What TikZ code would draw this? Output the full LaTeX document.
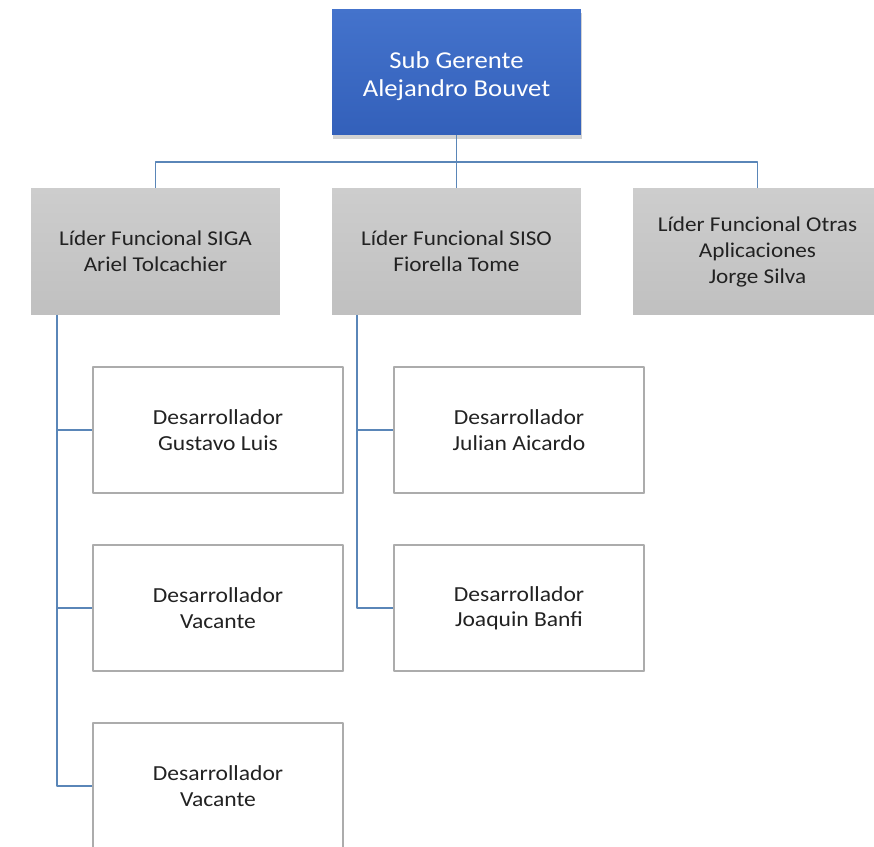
\documentclass[tikz,border=0pt]{standalone}
\usepackage{fontspec}
\setmainfont{Carlito}[FakeStretch=1.1]
\usetikzlibrary{shadows}
\definecolor{jefeTop}{HTML}{4473CC}
\definecolor{jefeBot}{HTML}{3360BA}
\definecolor{liderTop}{HTML}{CDCDCD}
\definecolor{liderBot}{HTML}{C0C0C0}
\definecolor{linea}{HTML}{5A86B8}
\definecolor{texto}{HTML}{222222}
\begin{document}
\begin{tikzpicture}[x=0.02cm,y=-0.02cm,line join=round,
    caja/.style={rectangle,minimum width=4.98cm,minimum height=2.52cm,align=center,inner sep=0pt},
    jefe/.style={caja,top color=jefeTop,bottom color=jefeBot,text=white,
      font=\fontsize{13.8}{16}\selectfont,
      drop shadow={shadow xshift=0.6pt,shadow yshift=-2.2pt,opacity=0.35}},
    lider/.style={caja,top color=liderTop,bottom color=liderBot,text=texto,
      font=\fontsize{12}{14.8}\selectfont},
    dev/.style={caja,minimum width=5cm,draw=gray!65,line width=0.8pt,fill=white,text=texto,
      font=\fontsize{12.2}{14.4}\selectfont,
      drop shadow={shadow xshift=0.5pt,shadow yshift=-0.8pt,opacity=0.15}},
    conn/.style={draw=linea,line width=1pt}]
  \clip (0,0) rectangle (874,847);
  \fill[white] (0,0) rectangle (874,847);
  % gerencia
  \node[jefe] (gerente) at (456.5,72) {\rule{0pt}{14pt}Sub Gerente\\Alejandro Bouvet};
  % lideres funcionales
  \node[lider] (siga) at (155.5,251.5) {Líder Funcional SIGA\\Ariel Tolcachier};
  \node[lider] (siso) at (456.5,251.5) {Líder Funcional SISO\\Fiorella Tome};
  \node[lider] (otras) at (757.5,251.5) {Líder Funcional Otras\\Aplicaciones\\Jorge Silva};
  % desarrolladores
  \node[dev] (gustavo) at (218,430) {Desarrollador\\Gustavo Luis};
  \node[dev] (vacante1) at (218,608) {Desarrollador\\Vacante};
  \node[dev] (vacante2) at (218,786) {Desarrollador\\Vacante};
  \node[dev] (julian) at (519,430) {Desarrollador\\Julian Aicardo};
  \node[dev] (joaquin) at (519,608) {Desarrollador\\Joaquin Banfi};
  % conectores
  \coordinate (bus) at (456.5,162);
  \draw[conn] (gerente.south) -- (siso.north);
  \draw[conn] (siga.north) |- (bus) -| (otras.north);
  \foreach \n in {gustavo,vacante1,vacante2}
    \draw[conn] ([xshift=0.52cm]siga.south west) |- (\n.west);
  \foreach \n in {julian,joaquin}
    \draw[conn] ([xshift=0.5cm]siso.south west) |- (\n.west);
\end{tikzpicture}
\end{document}
